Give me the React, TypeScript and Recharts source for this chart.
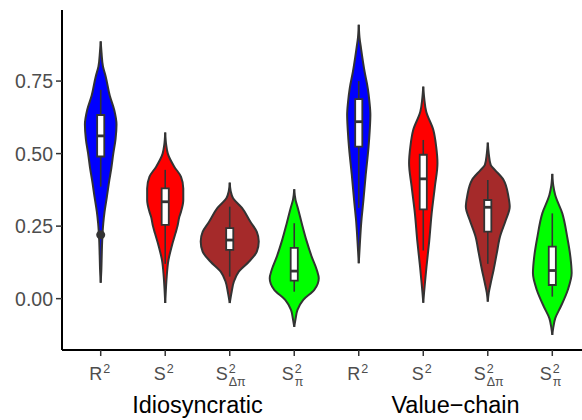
import React from "react";
import {
  ComposedChart,
  Area,
  XAxis,
  YAxis,
  ReferenceArea,
  ReferenceLine,
  ReferenceDot,
} from "recharts";

const FONT = '"Liberation Sans", Arial, sans-serif';

// groups and measures on the x axis
const groups = ["Idiosyncratic", "Value\u2212chain"];
const tickBase = ["R", "S", "S", "S"];
const tickSub = ["", "", "\u0394\u03c0", "\u03c0"];
const fills = ["#0000ff", "#ff0000", "#a52a2a", "#00ff00"];

// violin profiles: [value, half width], from top to bottom
const idioR2: [number, number][] = [
  [0.887, 0], [0.85, 0.012], [0.8, 0.035], [0.766, 0.077], [0.7, 0.14], [0.65, 0.21],
  [0.6, 0.245], [0.55, 0.23], [0.5, 0.195], [0.45, 0.165], [0.41, 0.135], [0.35, 0.095],
  [0.3, 0.06], [0.26, 0.04], [0.2, 0.023], [0.15, 0.016], [0.1, 0.01], [0.055, 0],
];
const idioS2: [number, number][] = [
  [0.573, 0], [0.53, 0.015], [0.5, 0.04], [0.455, 0.14], [0.42, 0.245], [0.38, 0.28],
  [0.34, 0.28], [0.3, 0.245], [0.283, 0.22], [0.25, 0.19], [0.226, 0.16], [0.18, 0.1],
  [0.133, 0.05], [0.076, 0.023], [0.03, 0.01], [-0.015, 0],
];
const idioSdp: [number, number][] = [
  [0.4, 0], [0.37, 0.015], [0.347, 0.05], [0.313, 0.19], [0.265, 0.32], [0.23, 0.42],
  [0.197, 0.45], [0.162, 0.42], [0.128, 0.3], [0.093, 0.14], [0.059, 0.065], [0.024, 0.03],
  [-0.015, 0],
];
const idioSp: [number, number][] = [
  [0.377, 0], [0.34, 0.02], [0.317, 0.05], [0.26, 0.116], [0.2, 0.19], [0.145, 0.27],
  [0.099, 0.35], [0.07, 0.38], [0.03, 0.31], [-0.004, 0.14], [-0.039, 0.05], [-0.07, 0.02],
  [-0.097, 0],
];
const valueR2: [number, number][] = [
  [0.944, 0], [0.9, 0.012], [0.863, 0.035], [0.783, 0.09], [0.725, 0.14], [0.68, 0.165],
  [0.633, 0.18], [0.58, 0.17], [0.519, 0.15], [0.427, 0.108], [0.334, 0.07], [0.266, 0.04],
  [0.2, 0.02], [0.122, 0],
];
const valueS2: [number, number][] = [
  [0.731, 0], [0.69, 0.015], [0.645, 0.045], [0.582, 0.155], [0.524, 0.2], [0.467, 0.22],
  [0.386, 0.18], [0.294, 0.13], [0.2, 0.093], [0.11, 0.05], [0.064, 0.03], [0.02, 0.012],
  [-0.014, 0],
];
const valueSdp: [number, number][] = [
  [0.538, 0], [0.5, 0.015], [0.461, 0.045], [0.444, 0.11], [0.409, 0.245], [0.352, 0.32],
  [0.317, 0.34], [0.271, 0.28], [0.214, 0.19], [0.157, 0.14], [0.099, 0.09], [0.053, 0.045],
  [0.02, 0.015], [-0.01, 0],
];
const valueSp: [number, number][] = [
  [0.43, 0], [0.39, 0.015], [0.357, 0.045], [0.294, 0.155], [0.214, 0.23], [0.145, 0.28],
  [0.088, 0.3], [0.03, 0.24], [-0.028, 0.13], [-0.068, 0.045], [-0.1, 0.015], [-0.125, 0],
];
const violins = [idioR2, idioS2, idioSdp, idioSp, valueR2, valueS2, valueSdp, valueSp];

// boxplot statistics, one per violin
const q1 = [0.49, 0.254, 0.168, 0.062, 0.524, 0.308, 0.231, 0.047];
const median = [0.561, 0.334, 0.202, 0.095, 0.61, 0.413, 0.315, 0.097];
const q3 = [0.633, 0.38, 0.243, 0.175, 0.688, 0.496, 0.34, 0.179];
const whiskerLo = [0.386, 0.12, 0.076, 0.024, 0.313, 0.166, 0.12, 0.007];
const whiskerHi = [0.72, 0.444, 0.317, 0.26, 0.75, 0.547, 0.409, 0.294];
const outliers = [{ pos: 1, value: 0.22 }];

const yTicks = [0, 0.25, 0.5, 0.75];
const positions = violins.map((_, i) => i + 1);
const groupCenters = [2.5, 6.5];
const BOX = 0.055;

const violinData = violins.map((prof, i) =>
  prof.map(([v, w]) => ({ y: v, band: [i + 1 - w, i + 1 + w] }))
);

const MeasureTick = ({ x, y, payload }: any) => {
  const k = (Math.round(payload.value) - 1) % 4;
  const sub = tickSub[k];
  const shift = sub.length > 1 ? -2 : sub ? -0.5 : tickBase[k] === "R" ? 1.5 : 0.5;
  return (
    <g fill="#4d4d4d" fontFamily={FONT}>
      <text x={x + shift} y={y + 22} textAnchor="end" fontSize={18}>
        {tickBase[k]}
      </text>
      <text x={x + shift + 1} y={y + 15} fontSize={12.5}>
        2
      </text>
      {sub && (
        <text x={x + shift + 1} y={y + 28} fontSize={12.5}>
          {sub}
        </text>
      )}
    </g>
  );
};

const GroupTick = ({ x, y, payload }: any) => (
  <text x={x} y={y + 23} textAnchor="middle" fontSize={23.5} fill="#000" fontFamily={FONT}>
    {groups[groupCenters.indexOf(payload.value)]}
  </text>
);

export default function App() {
  return (
    <div
      style={{
        position: "absolute",
        left: 0,
        top: 0,
        width: 582,
        height: 420,
        overflow: "hidden",
        background: "#fff",
      }}
    >
      <ComposedChart
        width={600}
        height={420}
        layout="vertical"
        margin={{ top: 10, right: 9, bottom: 0, left: 0 }}
      >
        <XAxis
          type="number"
          domain={[0.4, 8.6]}
          allowDataOverflow
          ticks={positions}
          interval={0}
          height={40}
          tickSize={6}
          tickMargin={2}
          axisLine={{ stroke: "#000", strokeWidth: 2 }}
          tickLine={{ stroke: "#333", strokeWidth: 1.5 }}
          tick={<MeasureTick />}
        />
        <XAxis
          xAxisId="grp"
          type="number"
          domain={[0.4, 8.6]}
          allowDataOverflow
          ticks={groupCenters}
          interval={0}
          height={30}
          tickSize={0}
          tickMargin={0}
          axisLine={false}
          tickLine={false}
          tick={<GroupTick />}
        />
        <YAxis
          type="number"
          dataKey="y"
          reversed
          domain={[-0.177, 0.995]}
          allowDataOverflow
          ticks={yTicks}
          interval={0}
          width={62}
          tickSize={6}
          tickMargin={3}
          tickFormatter={(v: number) => v.toFixed(2)}
          axisLine={{ stroke: "#000", strokeWidth: 2 }}
          tickLine={{ stroke: "#333", strokeWidth: 1.5 }}
          tick={{ fill: "#4d4d4d", fontSize: 19.5, fontFamily: FONT }}
        />
        {violinData.map((d, i) => (
          <Area
            key={`v${i}`}
            data={d}
            dataKey="band"
            type="monotone"
            fill={fills[i % 4]}
            fillOpacity={1}
            stroke="#333"
            strokeWidth={2}
            dot={false}
            activeDot={false}
            isAnimationActive={false}
          />
        ))}
        {positions.map((p, i) => (
          <ReferenceLine
            key={`w${i}`}
            segment={[
              { x: p, y: whiskerLo[i] },
              { x: p, y: whiskerHi[i] },
            ]}
            stroke="#333"
            strokeWidth={1.6}
            zIndex={420}
          />
        ))}
        {positions.map((p, i) => (
          <ReferenceArea
            key={`b${i}`}
            x1={p - BOX}
            x2={p + BOX}
            y1={q1[i]}
            y2={q3[i]}
            fill="#fff"
            fillOpacity={1}
            stroke="#333"
            strokeWidth={1.8}
            zIndex={440}
          />
        ))}
        {positions.map((p, i) => (
          <ReferenceLine
            key={`m${i}`}
            segment={[
              { x: p - BOX, y: median[i] },
              { x: p + BOX, y: median[i] },
            ]}
            stroke="#333"
            strokeWidth={2.8}
            zIndex={460}
          />
        ))}
        {outliers.map((o, i) => (
          <ReferenceDot
            key={`o${i}`}
            x={o.pos}
            y={o.value}
            r={4.5}
            fill="#333"
            stroke="none"
            zIndex={480}
          />
        ))}
      </ComposedChart>
    </div>
  );
}
